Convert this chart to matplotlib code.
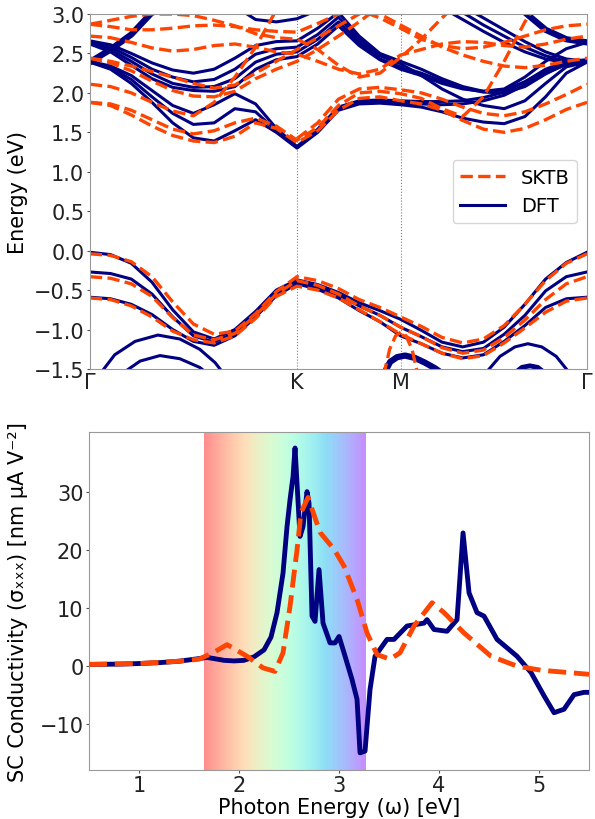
import numpy as np
import matplotlib
matplotlib.use("Agg")
import matplotlib.pyplot as plt

# ---------------- band structure data ----------------
# common k grid along the path G-K-M-G (25 points, K at index 10, M at index 15)
k_grid = np.arange(25) / 24
k_ticks = [0, 10 / 24, 15 / 24, 1]
k_labels = ["Γ", "K", "M", "Γ"]
nan = np.nan

# DFT valence bands
dft_v1 = [-0.02, -0.05, -0.16, -0.40, -0.75, -1.03, -1.12, -1.00, -0.77, -0.50, -0.37, -0.43, -0.53,
          -0.66, -0.76, -0.87, -1.01, -1.16, -1.22, -1.16, -0.97, -0.68, -0.36, -0.15, -0.02]
dft_v2 = [-0.27, -0.29, -0.36, -0.55, -0.84, -1.08, -1.16, -1.04, -0.80, -0.53, -0.40, -0.46, -0.56,
          -0.70, -0.82, -0.97, -1.09, -1.22, -1.28, -1.24, -1.06, -0.82, -0.51, -0.33, -0.27]
dft_v3 = [-0.59, -0.61, -0.68, -0.81, -1.00, -1.15, -1.20, -1.08, -0.84, -0.57, -0.42, -0.49, -0.60,
          -0.76, -0.90, -1.08, -1.18, -1.30, -1.36, -1.32, -1.15, -0.95, -0.72, -0.61, -0.59]

# DFT conduction bands
dft_c1 = [2.39, 2.30, 2.12, 1.88, 1.62, 1.43, 1.39, 1.52, 1.66, 1.50, 1.30, 1.50, 1.78,
          1.86, 1.87, 1.85, 1.82, 1.76, 1.68, 1.63, 1.61, 1.70, 1.95, 2.25, 2.39]
dft_c2 = [2.39, 2.32, 2.17, 1.95, 1.74, 1.60, 1.62, 1.80, 1.76, 1.52, 1.31, 1.52, 1.80,
          1.88, 1.89, 1.87, 1.86, 1.85, 1.86, 1.90, 1.97, 2.10, 2.25, 2.36, 2.39]
dft_c3 = [2.40, 2.34, 2.22, 2.03, 1.84, 1.74, 1.85, 1.99, 1.86, 1.55, 1.32, 1.54, 1.82,
          1.90, 1.91, 1.90, 1.89, 1.89, 1.90, 1.94, 2.01, 2.14, 2.28, 2.38, 2.40]
dft_g1 = [2.66, 2.61, 2.50, 2.38, 2.29, 2.25, 2.30, 2.44, 2.60, 2.65, 2.66, 2.82, 3.02,
          2.72, 2.50, 2.40, 2.30, 2.18, 2.08, 2.02, 2.05, 2.20, 2.40, 2.56, 2.64]
dft_g2 = [2.64, 2.58, 2.45, 2.30, 2.20, 2.14, 2.17, 2.30, 2.49, 2.56, 2.58, 2.74, 2.96,
          2.68, 2.47, 2.37, 2.22, 2.05, 1.92, 1.84, 1.80, 1.90, 2.12, 2.33, 2.39]
dft_g3 = [2.63, 2.55, 2.40, 2.24, 2.12, 2.07, 2.08, 2.18, 2.39, 2.49, 2.52, 2.68, 2.90,
          2.64, 2.43, 2.33, 2.25, 2.15, 2.06, 2.01, 2.00, 2.08, 2.24, 2.37, 2.40]
dft_g4 = [2.62, 2.52, 2.35, 2.18, 2.07, 2.03, 2.02, 2.08, 2.30, 2.42, 2.46, 2.62, 2.85,
          2.60, 2.42, 2.30, 2.22, 2.12, 2.05, 2.02, 2.04, 2.14, 2.30, 2.40, 2.42]
dft_steep = [2.39, 2.55, 2.74, 3.02, 3.30, nan, nan, nan, nan, nan, nan, nan, nan,
             nan, nan, nan, nan, nan, nan, nan, nan, nan, nan, nan, nan]
dft_top = [nan, nan, nan, nan, nan, nan, 3.30, 3.10, 2.93, 2.90, 2.94, 3.05, 3.20,
           nan, nan, nan, nan, nan, nan, nan, nan, nan, nan, nan, nan]
dft_u1 = [nan, nan, nan, nan, nan, nan, nan, nan, nan, nan, nan, nan, nan,
          nan, nan, 3.50, 3.30, 3.08, 2.93, 2.78, 2.64, 2.52, 2.43, 2.38, 2.39]
dft_u2 = [nan, nan, nan, nan, nan, nan, nan, nan, nan, nan, nan, nan, nan,
          nan, nan, nan, 3.40, 3.20, 3.02, 2.86, 2.72, 2.58, 2.47, 2.40, 2.39]
dft_u3 = [nan, nan, nan, nan, nan, nan, nan, nan, nan, nan, nan, nan, nan,
          nan, nan, nan, 3.50, 3.28, 3.10, 2.95, 2.80, 2.65, 2.52, 2.43, 2.40]
dft_u4 = [nan, nan, nan, nan, nan, nan, nan, nan, nan, nan, nan, nan, nan,
          nan, nan, nan, nan, nan, nan, 3.35, 3.15, 3.02, 2.80, 2.68, 2.64]

# short DFT pieces near the bottom of the window (own k points)
arc_a_k = [0.016, 0.050, 0.091, 0.137, 0.181, 0.221, 0.252, 0.268]
arc_a_e = [-1.60, -1.32, -1.15, -1.07, -1.12, -1.25, -1.42, -1.55]
arc_b_k = [0.060, 0.101, 0.141, 0.181, 0.221, 0.237]
arc_b_e = [-1.58, -1.40, -1.33, -1.37, -1.48, -1.56]
arc_m_k = [0.590, 0.604, 0.618, 0.634, 0.654, 0.674, 0.694, 0.712]
arc_m_e = [-1.58, -1.41, -1.35, -1.33, -1.36, -1.42, -1.49, -1.57]
arc_c_k = [0.795, 0.825, 0.855, 0.881, 0.909, 0.938, 0.966]
arc_c_e = [-1.56, -1.34, -1.22, -1.18, -1.22, -1.34, -1.56]
arc_d_k = [0.853, 0.869, 0.885, 0.901, 0.917]
arc_d_e = [-1.56, -1.48, -1.46, -1.48, -1.56]

# SKTB valence bands
sk_v1 = [-0.04, -0.06, -0.14, -0.33, -0.65, -0.93, -1.06, -1.02, -0.80, -0.52, -0.33, -0.38, -0.48,
         -0.62, -0.72, -0.84, -0.96, -1.10, -1.17, -1.12, -0.95, -0.68, -0.38, -0.16, -0.04]
sk_v2 = [-0.33, -0.35, -0.42, -0.58, -0.85, -1.07, -1.13, -1.05, -0.82, -0.55, -0.38, -0.44, -0.55,
         -0.70, -0.82, -0.97, -1.09, -1.23, -1.30, -1.26, -1.10, -0.88, -0.62, -0.42, -0.33]
sk_v3 = [-0.60, -0.62, -0.70, -0.84, -1.02, -1.13, -1.17, -1.08, -0.86, -0.58, -0.45, -0.50, -0.60,
         -0.75, -0.90, -1.06, -1.18, -1.30, -1.37, -1.33, -1.17, -0.98, -0.78, -0.64, -0.60]
sk_arc_k = [0.591, 0.603, 0.615, 0.626, 0.636, 0.648, 0.660]
sk_arc_e = [-1.58, -1.25, -1.08, -1.03, -1.08, -1.25, -1.58]

# SKTB conduction bands
sk_a = [1.88, 1.84, 1.72, 1.58, 1.46, 1.39, 1.37, 1.45, 1.62, 1.55, 1.37, 1.52, 1.78,
        1.93, 1.95, 1.90, 1.86, 1.78, 1.65, 1.54, 1.50, 1.55, 1.66, 1.79, 1.88]
sk_b = [1.88, 1.86, 1.78, 1.66, 1.54, 1.48, 1.52, 1.62, 1.68, 1.58, 1.40, 1.56, 1.84,
        2.00, 2.02, 1.99, 1.93, 1.80, 1.70, 1.95, 2.40, 2.90, 3.30, nan, nan]
sk_c = [2.11, 2.08, 2.00, 1.88, 1.77, 1.71, 1.88, 2.20, 2.58, 3.05, 3.40, nan, nan,
        nan, nan, nan, nan, nan, nan, nan, nan, nan, nan, nan, nan]
sk_e = [nan, nan, nan, nan, nan, nan, nan, nan, nan, nan, 1.42, 1.62, 1.92,
        2.05, 2.07, 2.04, 2.00, 1.92, 1.82, 1.74, 1.71, 1.76, 1.86, 1.98, 2.11]
sk_f = [2.44, 2.40, 2.34, 2.27, 2.20, 2.12, 2.06, 2.10, 2.25, 2.40, 2.55, 2.70, 2.85,
        3.00, 3.20, nan, nan, nan, nan, nan, nan, nan, nan, nan, nan]
sk_g = [2.44, 2.38, 2.28, 2.15, 2.03, 1.96, 1.95, 2.02, 2.18, 2.30, 2.40, 2.55, 2.72,
        2.90, 3.10, nan, nan, nan, nan, nan, nan, nan, nan, nan, nan]
sk_h = [2.87, 2.92, 2.97, 3.00, 3.00, 2.98, 2.92, 2.85, 2.75, 2.70, 2.68, 2.55, 2.35,
        2.20, 2.25, 2.45, 2.68, 2.95, 3.20, nan, nan, nan, nan, nan, nan]
sk_i = [2.72, 2.70, 2.64, 2.57, 2.53, 2.55, 2.60, 2.62, 2.58, 2.52, 2.49, 2.40, 2.30,
        2.24, 2.30, 2.48, 2.55, 2.62, 2.65, 2.64, 2.60, 2.58, 2.62, 2.68, 2.72]
sk_j = [2.87, 2.84, 2.80, 2.80, 2.82, 2.85, 2.86, 2.84, 2.80, 2.78, 2.77, 2.88, 3.00,
        3.05, 2.95, 2.82, 2.68, 2.60, 2.56, 2.58, 2.64, 2.72, 2.80, 2.85, 2.87]
sk_k = [nan, nan, nan, nan, nan, nan, nan, nan, nan, nan, nan, nan, 3.30,
        3.15, 3.00, 2.86, 2.72, 2.58, 2.48, 2.40, 2.34, 2.32, 2.35, 2.40, 2.44]

# ---------------- shift current data ----------------
dft_w = [0.50, 0.80, 1.00, 1.20, 1.40, 1.60, 1.68, 1.75, 1.85, 1.95, 2.05, 2.15, 2.25, 2.32,
         2.38, 2.44, 2.48, 2.51, 2.54, 2.56, 2.61, 2.64, 2.68, 2.70, 2.73, 2.76, 2.80, 2.84,
         2.91, 2.96, 3.00, 3.05, 3.13, 3.18, 3.21, 3.26, 3.31, 3.36, 3.48, 3.55, 3.68, 3.85,
         3.88, 3.95, 4.08, 4.18, 4.24, 4.30, 4.38, 4.45, 4.58, 4.78, 4.92, 5.05, 5.15, 5.25,
         5.35, 5.45, 5.50]
dft_sigma = [0.3, 0.35, 0.45, 0.6, 0.85, 1.3, 1.5, 1.3, 1.0, 0.9, 1.0, 1.6, 2.8, 5.0,
             9.2, 16.0, 24.0, 28.6, 32.6, 37.5, 22.3, 24.0, 30.0, 28.0, 8.6, 7.7, 16.6, 7.4,
             4.0, 4.0, 5.1, 2.3, -2.3, -5.7, -14.9, -14.6, -4.0, 1.7, 4.6, 4.6, 6.9, 7.4,
             8.0, 6.3, 6.0, 8.0, 22.9, 12.6, 9.2, 8.6, 4.6, 1.7, -1.1, -5.1, -8.0, -7.4,
             -4.9, -4.5, -4.5]
sk_w = [0.50, 1.00, 1.40, 1.60, 1.74, 1.88, 2.08, 2.24, 2.36, 2.44, 2.51, 2.58, 2.62, 2.69,
        2.81, 2.95, 3.05, 3.18, 3.28, 3.38, 3.51, 3.61, 3.75, 3.93, 4.05, 4.25, 4.52, 4.78,
        5.02, 5.50]
sk_sigma = [0.3, 0.45, 0.85, 1.2, 2.3, 3.7, 1.7, -0.3, -0.9, 2.3, 10.3, 20.0, 26.4, 29.0,
            23.0, 20.1, 17.2, 11.5, 5.7, 2.0, 1.2, 2.3, 6.9, 10.9, 9.2, 5.7, 1.7, 0.0,
            -0.7, -1.4]
visible = (1.65, 3.26)

navy = "#000080"
orange = "#ff4500"
spine_c = "#999999"
fs = 15

fig = plt.figure(figsize=(5.95, 8.2), dpi=100)
ax1 = fig.add_axes([0.151, 0.5488, 0.8356, 0.4329])
ax2 = fig.add_axes([0.1496, 0.0601, 0.8404, 0.4115])

for ax in (ax1, ax2):
    for s in ax.spines.values():
        s.set_color(spine_c)
    ax.tick_params(colors="#555555", labelcolor="#222222", labelsize=fs, length=2, pad=2)

# --- top: band structure ---
dft_bands = [dft_v1, dft_v2, dft_v3, dft_c1, dft_c2, dft_c3, dft_g1, dft_g2, dft_g3, dft_g4,
             dft_top, dft_u1, dft_u2, dft_u3]
for i, b in enumerate(dft_bands):
    ax1.plot(k_grid, b, color=navy, lw=2.2, label="DFT" if i == 0 else None)
ax1.plot(k_grid, dft_steep, color=navy, lw=4.5)
ax1.plot(k_grid, dft_u4, color=navy, lw=4.5)
ax1.plot(arc_a_k, arc_a_e, color=navy, lw=2.2)
ax1.plot(arc_b_k, arc_b_e, color=navy, lw=2.2)
ax1.plot(arc_m_k, arc_m_e, color=navy, lw=4.5)
ax1.plot(arc_c_k, arc_c_e, color=navy, lw=2.2)
ax1.plot(arc_d_k, arc_d_e, color=navy, lw=3.5)

sk_bands = [sk_v1, sk_v2, sk_v3, sk_a, sk_b, sk_c, sk_e, sk_f, sk_g, sk_h, sk_i, sk_j, sk_k]
for i, b in enumerate(sk_bands):
    ax1.plot(k_grid, b, color=orange, lw=2.4, ls="--", label="SKTB" if i == 0 else None)
ax1.plot(sk_arc_k, sk_arc_e, color=orange, lw=2.4, ls="--")

for kv in k_ticks[1:3]:
    ax1.axvline(kv, color="gray", ls=":", lw=0.8, zorder=0)
ax1.set_xlim(0, 1)
ax1.set_ylim(-1.5, 3.0)
ax1.set_xticks(k_ticks)
ax1.set_xticklabels(k_labels)
ax1.tick_params(axis="x", length=0)
ax1.set_yticks(np.arange(-1.5, 3.01, 0.5))
ax1.set_ylabel("Energy (eV)", fontsize=fs)
ax1.yaxis.set_label_coords(-0.125, 0.5)
h, l = ax1.get_legend_handles_labels()
order = [l.index("SKTB"), l.index("DFT")]
ax1.legend([h[j] for j in order], [l[j] for j in order], loc="center right",
           fontsize=fs - 1, handlelength=2.3)

# --- bottom: shift current ---
ylo, yhi = -17.8, 40.2
grad = np.linspace(0, 1, 256).reshape(1, -1)
ax2.imshow(grad, extent=[visible[0], visible[1], ylo, yhi], aspect="auto",
           cmap="rainbow_r", alpha=0.45, zorder=0)
ax2.plot(dft_w, dft_sigma, color=navy, lw=3.5, zorder=2)
ax2.plot(sk_w, sk_sigma, color=orange, lw=3.5, ls="--", zorder=3)
ax2.set_xlim(0.5, 5.5)
ax2.set_ylim(ylo, yhi)
ax2.set_xticks([1, 2, 3, 4, 5])
ax2.set_yticks([-10, 0, 10, 20, 30])
ax2.set_xlabel("Photon Energy (ω) [eV]", fontsize=fs, labelpad=1)
ax2.set_ylabel("SC Conductivity (σₓₓₓ) [nm μA V⁻²]", fontsize=fs)
ax2.yaxis.set_label_coords(-0.122, 0.5)

fig.savefig("out.png", dpi=100)
